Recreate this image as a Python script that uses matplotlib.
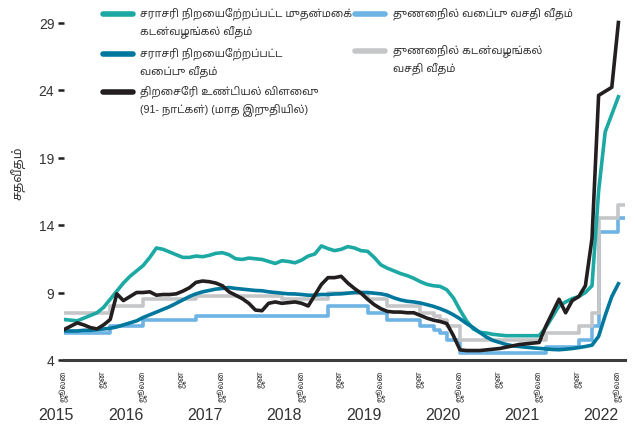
import numpy as np
import matplotlib
matplotlib.use('Agg')
import matplotlib.pyplot as plt
from matplotlib import font_manager
from matplotlib.ft2font import FT2Font
from matplotlib.lines import Line2D

# monthly, July 2015 .. July 2022 (market rates)
awpr = [7.0, 6.95, 6.9, 7.1, 7.3, 7.5, 7.9, 8.5, 9.1, 9.7,
        10.2, 10.6, 11.0, 11.6, 12.3, 12.2, 12.0, 11.8, 11.6, 11.6,
        11.7, 11.65, 11.75, 11.9, 11.95, 11.8, 11.5, 11.45, 11.55, 11.5,
        11.45, 11.3, 11.15, 11.35, 11.3, 11.2, 11.4, 11.7, 11.85, 12.45,
        12.25, 12.1, 12.2, 12.4, 12.3, 12.1, 12.05, 11.6, 11.05, 10.8,
        10.6, 10.4, 10.25, 10.05, 9.8, 9.6, 9.5, 9.45, 9.2, 8.6,
        7.7, 6.9, 6.3, 6.05, 6.0, 5.9, 5.85, 5.8, 5.8, 5.8,
        5.8, 5.8, 5.8, 6.4, 7.2, 8.0, 8.3, 8.55, 8.7, 9.0,
        9.5, 16.5, 20.9, 22.2, 23.5]
awdr = [6.15, 6.15, 6.15, 6.2, 6.2, 6.25, 6.3, 6.35, 6.45, 6.6,
        6.75, 6.9, 7.15, 7.35, 7.55, 7.75, 7.95, 8.2, 8.45, 8.7,
        8.9, 9.05, 9.15, 9.25, 9.3, 9.37, 9.3, 9.25, 9.2, 9.15,
        9.13, 9.05, 9.0, 8.95, 8.9, 8.89, 8.85, 8.8, 8.8, 8.85,
        8.85, 8.89, 8.9, 8.95, 9.0, 9.0, 9.0, 8.95, 8.9, 8.8,
        8.6, 8.45, 8.35, 8.3, 8.22, 8.1, 7.97, 7.8, 7.6, 7.35,
        7.05, 6.7, 6.4, 6.04, 5.7, 5.45, 5.3, 5.15, 5.05, 5.0,
        4.95, 4.9, 4.86, 4.82, 4.78, 4.76, 4.8, 4.85, 4.92, 5.0,
        5.1, 5.75, 7.3, 8.7, 9.65]
tbill = [6.25, 6.5, 6.75, 6.6, 6.4, 6.3, 6.6, 7.0, 8.9, 8.4,
         8.7, 9.0, 9.0, 9.05, 8.8, 8.85, 8.85, 8.9, 9.1, 9.35,
         9.75, 9.85, 9.8, 9.7, 9.5, 9.05, 8.8, 8.55, 8.2, 7.7,
         7.65, 8.2, 8.3, 8.2, 8.25, 8.3, 8.2, 8.0, 8.8, 9.6,
         10.1, 10.1, 10.2, 9.7, 9.3, 8.95, 8.5, 8.1, 7.8, 7.6,
         7.55, 7.55, 7.5, 7.5, 7.3, 7.1, 6.95, 6.85, 6.7, 5.8,
         4.75, 4.7, 4.7, 4.7, 4.75, 4.8, 4.85, 4.95, 5.05, 5.15,
         5.2, 5.25, 5.3, 6.5, 7.5, 8.5, 7.5, 8.4, 8.7, 9.5,
         13.0, 23.6, 23.9, 24.2, 29.0]

# monthly, July 2015 .. August 2022 (policy corridor)
sdfr = [6.0, 6.0, 6.0, 6.0, 6.0, 6.0, 6.0, 6.5, 6.5, 6.5,
        6.5, 6.5, 7.0, 7.0, 7.0, 7.0, 7.0, 7.0, 7.0, 7.0,
        7.25, 7.25, 7.25, 7.25, 7.25, 7.25, 7.25, 7.25, 7.25, 7.25,
        7.25, 7.25, 7.25, 7.25, 7.25, 7.25, 7.25, 7.25, 7.25, 7.25,
        8.0, 8.0, 8.0, 8.0, 8.0, 8.0, 7.5, 7.5, 7.5, 7.0,
        7.0, 7.0, 7.0, 7.0, 6.5, 6.5, 6.25, 6.0, 5.5, 5.5,
        4.5, 4.5, 4.5, 4.5, 4.5, 4.5, 4.5, 4.5, 4.5, 4.5,
        4.5, 4.5, 4.5, 5.0, 5.0, 5.0, 5.0, 5.0, 5.5, 5.5,
        6.5, 13.5, 13.5, 13.5, 14.5, 14.5]
slfr = [7.5, 7.5, 7.5, 7.5, 7.5, 7.5, 7.5, 8.0, 8.0, 8.0,
        8.0, 8.0, 8.5, 8.5, 8.5, 8.5, 8.5, 8.5, 8.5, 8.5,
        8.75, 8.75, 8.75, 8.75, 8.75, 8.75, 8.75, 8.75, 8.75, 8.75,
        8.75, 8.75, 8.75, 8.5, 8.5, 8.5, 8.5, 8.5, 8.5, 8.5,
        9.0, 9.0, 9.0, 9.0, 9.0, 9.0, 8.5, 8.5, 8.5, 8.0,
        8.0, 8.0, 8.0, 8.0, 7.5, 7.5, 7.25, 7.0, 6.5, 6.5,
        5.5, 5.5, 5.5, 5.5, 5.5, 5.5, 5.5, 5.5, 5.5, 5.5,
        5.5, 5.5, 5.5, 6.0, 6.0, 6.0, 6.0, 6.0, 6.5, 6.5,
        7.5, 14.5, 14.5, 14.5, 15.5, 15.5]

years = ['2015', '2016', '2017', '2018', '2019', '2020', '2021', '2022']
label_awpr = 'சராசரி நிறையேற்றப்பட்ட முதன்மைக்\nகடன்வழங்கல் வீதம்'
label_awdr = 'சராசரி நிறையேற்றப்பட்ட\nவைப்பு வீதம்'
label_tbill = 'திறைசேரி உண்டியல் விளைவு\n(91- நாட்கள்) (மாத இறுதியில்)'
label_sdfr = 'துணைநில் வைப்பு வசதி வீதம்'
label_slfr = 'துணைநில் கடன்வழங்கல்\nவசதி வீதம்'
ylabel = 'சதவீதம்'
jul_label = 'ஜூலை'
jan_label = 'ஜன'


def pick_tamil_family():
    have = {}
    for f in font_manager.fontManager.ttflist:
        try:
            if 0x0B9A in FT2Font(f.fname).get_charmap():
                have[f.name] = True
        except Exception:
            pass
    for name in ['Noto Sans Tamil', 'Noto Sans Tamil UI', 'Mukta Malar', 'Hind Madurai',
                 'Anek Tamil', 'FreeSans', 'Catamaran']:
        if name in have:
            return name
    return next(iter(have), None)


tamil = pick_tamil_family()
families = ['Liberation Sans'] + ([tamil] if tamil else []) + ['DejaVu Sans']
plt.rcParams['font.family'] = families

c_teal = '#1ca9a4'
c_dblue = '#00789d'
c_black = '#231f20'
c_lblue = '#6db3e3'
c_gray = '#c5c6c8'
txt = '#333333'

fig = plt.figure(figsize=(6.35, 4.35), dpi=100)
ax = fig.add_axes([64 / 635, 74 / 435, 561 / 635, 357.75 / 435])

x_rate = np.arange(len(sdfr))
x_mkt = np.arange(len(awpr))
lw = 2.6
ax.plot(x_rate, sdfr, drawstyle='steps-post', color=c_lblue, lw=lw)
ax.plot(x_rate, slfr, drawstyle='steps-post', color=c_gray, lw=lw)
ax.plot(x_mkt, awpr, color=c_teal, lw=lw)
ax.plot(x_mkt, awdr, color=c_dblue, lw=lw)
ax.plot(x_mkt, tbill, color=c_black, lw=lw)

ax.set_xlim(0, 85)
ax.set_ylim(4, 30.5)
ax.set_yticks([4, 9, 14, 19, 24, 29])
ax.tick_params(axis='y', length=4, width=1.8, color=c_black, labelsize=10,
               labelcolor=txt, pad=3)
for s in ['top', 'right', 'left']:
    ax.spines[s].set_visible(False)
ax.spines['bottom'].set_linewidth(2.2)
ax.spines['bottom'].set_color('#3d3d3d')

xt = list(range(0, 85, 6))
ax.set_xticks(xt)
ax.set_xticklabels([jul_label if i % 12 == 0 else jan_label for i in xt],
                   rotation=90, fontsize=5.6, color=txt)
ax.tick_params(axis='x', length=0, pad=7)

for k, y in enumerate(years):
    ax.text(max(12 * k - 2.6, -1.2), -0.151, y, transform=ax.get_xaxis_transform(),
            ha='center', va='center', fontsize=11.5, color=txt)

fig.text(18 / 635, 1 - 173 / 435, ylabel, rotation=90, ha='center', va='center',
         fontsize=9, color=txt)

# legend drawn by hand so that the keys sit on the first text line
entries = [(103, 140, 15, c_teal, label_awpr),
           (103, 140, 55, c_dblue, label_awdr),
           (103, 140, 93, c_black, label_tbill),
           (355, 393, 15, c_lblue, label_sdfr),
           (355, 393, 52, c_gray, label_slfr)]
for hx, tx, ty, col, lab in entries:
    fig.add_artist(Line2D([hx / 635, (hx + 30) / 635], [1 - ty / 435, 1 - ty / 435],
                          color=col, lw=4, solid_capstyle='round'))
    fig.text(tx / 635, 1 - (ty - 8) / 435, lab, ha='left', va='top',
             fontsize=7.7, color=txt, linespacing=1.63)

fig.savefig('out.png', dpi=100)
